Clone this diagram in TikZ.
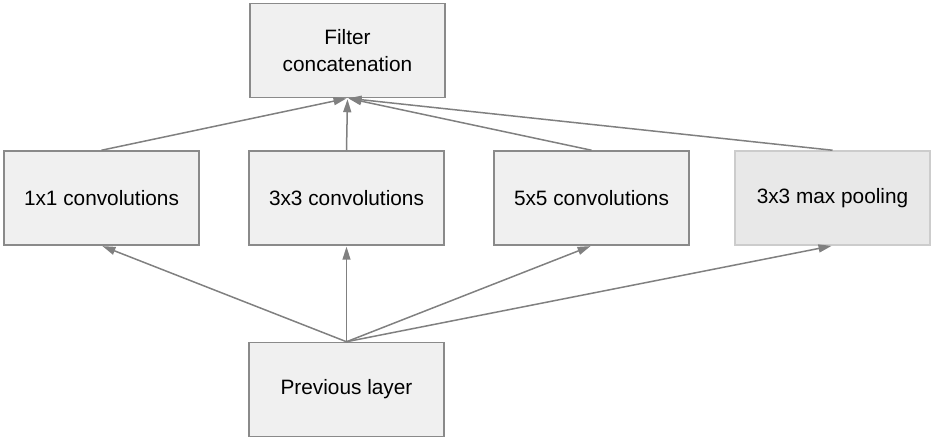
\documentclass[tikz,border=0pt]{standalone}
\usepackage{fontspec}
\setmainfont{Liberation Sans}
\usetikzlibrary{arrows.meta}

\definecolor{boxfill}{HTML}{F0F0F0}
\definecolor{boxline}{HTML}{8A8A8A}
\definecolor{poolfill}{HTML}{E8E8E8}
\definecolor{poolline}{HTML}{CCCCCC}
\definecolor{arrowgray}{HTML}{808080}

\tikzset{
  layerbox/.style={draw=boxline, fill=boxfill, line width=1.5pt, minimum width=195pt, minimum height=94pt, align=center, text=black, font=\fontsize{20.8}{27}\selectfont},
  poolbox/.style={layerbox, draw=poolline, fill=poolfill},
  flow/.style={-{Triangle[length=13pt,width=8pt]}, arrowgray, line width=1.5pt, shorten >=1pt}
}

\begin{document}
\begin{tikzpicture}[x=1pt,y=1pt]
    \useasboundingbox (0,0) rectangle (934,441);

    % layers
    \node[layerbox] (concat) at (347.5,390.5) {Filter\\concatenation};
    \node[layerbox] (conv1) at (101.5,243) {1x1 convolutions};
    \node[layerbox] (conv3) at (346.5,243) {3x3 convolutions};
    \node[layerbox] (conv5) at (591.5,243) {5x5 convolutions};
    \node[poolbox] (pool) at (832.5,243) {3x3 max pooling};
    \node[layerbox] (prev) at (346.5,51.5) {Previous layer};

    % previous layer into the four branches
    \draw[flow] (prev.north) -- (conv1.south);
    \draw[flow] (prev.north) -- (conv3.south);
    \draw[flow] (prev.north) -- (conv5.south);
    \draw[flow] (prev.north) -- (pool.south);

    % branches into the concatenation
    \draw[flow] (conv1.north) -- (concat.south);
    \draw[flow] (conv3.north) -- (concat.south);
    \draw[flow] (conv5.north) -- (concat.south);
    \draw[flow] (pool.north) -- (concat.south);

\end{tikzpicture}
\end{document}
